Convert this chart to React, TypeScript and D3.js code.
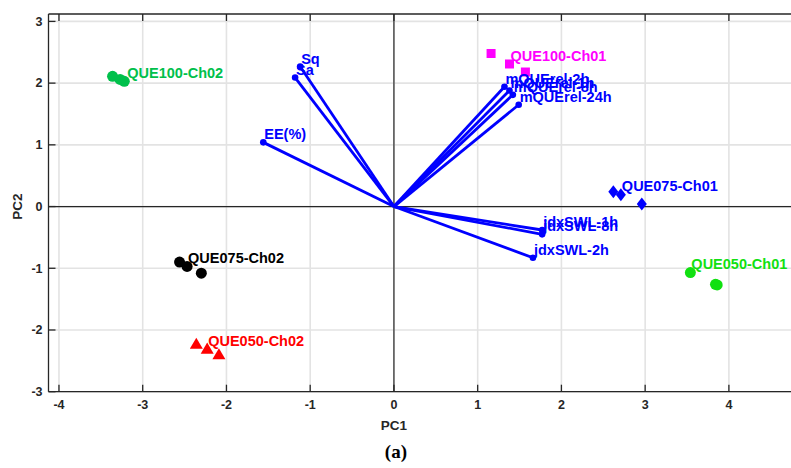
import React from 'react'
import * as d3 from 'd3'

// PCA scores per group (PC1, PC2)
const groupNames = ['QUE100-Ch02', 'QUE100-Ch01', 'QUE075-Ch01', 'QUE050-Ch01', 'QUE075-Ch02', 'QUE050-Ch02']
const groupColors = ['#00C04B', '#FF00FF', '#0000FF', '#11E011', '#000000', '#FF0000']
const groupShapes = ['circle', 'square', 'diamond', 'circle', 'circle', 'triangle']
const groupPC1 = [
  [-3.36, -3.27, -3.22],
  [1.16, 1.38, 1.57],
  [2.62, 2.71, 2.96],
  [3.86, 3.54, 3.84],
  [-2.56, -2.47, -2.3],
  [-2.36, -2.23, -2.09]
]
const groupPC2 = [
  [2.11, 2.06, 2.03],
  [2.48, 2.31, 2.18],
  [0.24, 0.19, 0.04],
  [-1.27, -1.07, -1.26],
  [-0.9, -0.97, -1.08],
  [-2.23, -2.31, -2.4]
]
const groupLabelAt = [2, 1, 1, 1, 1, 1]

// loadings
const varNames = ['Sq', 'Sa', 'EE(%)', 'mQUErel-2h', 'mQUErel-1h', 'mQUErel-8h', 'mQUErel-24h', 'jdxSWL-1h', 'jdxSWL-8h', 'jdxSWL-2h']
const varPC1 = [-1.12, -1.18, -1.56, 1.32, 1.38, 1.42, 1.49, 1.77, 1.77, 1.66]
const varPC2 = [2.27, 2.09, 1.04, 1.94, 1.88, 1.81, 1.65, -0.38, -0.45, -0.83]

const xTicks = [-4, -3, -2, -1, 0, 1, 2, 3, 4]
const yTicks = [-3, -2, -1, 0, 1, 2, 3]

const W = 791
const H = 468
const left = 48.5
const right = 793
const top = 14
const bottom = 391.7
const font = 'Arial, "Liberation Sans", Helvetica, sans-serif'

function marker(shape: string, x: number, y: number, color: string, key: string) {
  if (shape === 'square') {
    return <rect key={key} x={x - 4.5} y={y - 4.5} width={9} height={9} fill={color} />
  }
  if (shape === 'diamond') {
    const r = 6.5
    return <path key={key} d={`M${x},${y - r}L${x + r - 1.5},${y}L${x},${y + r}L${x - r + 1.5},${y}Z`} fill={color} />
  }
  if (shape === 'triangle') {
    const r = 6.5
    return <path key={key} d={`M${x},${y - r}L${x + r},${y + r * 0.7}L${x - r},${y + r * 0.7}Z`} fill={color} />
  }
  return <circle key={key} cx={x} cy={y} r={5.5} fill={color} />
}

export default function App() {
  const x = d3.scaleLinear().domain([-4.125, (right - 394.6) / 83.6]).range([left, right])
  const y = d3.scaleLinear().domain([-3, 3.12]).range([bottom, top])

  return (
    <svg width={W} height={H} style={{position: 'absolute', left: 0, top: 0, background: '#fff'}}>
      <defs>
        <clipPath id="plot">
          <rect x={left} y={top} width={right - left} height={bottom - top} />
        </clipPath>
      </defs>
      {/* grid */}
      <g stroke="#e3e3e3" strokeWidth={1.6}>
        {xTicks.map(t => (
          <line key={'gx' + t} x1={x(t)} x2={x(t)} y1={top} y2={bottom} />
        ))}
        {yTicks.map(t => (
          <line key={'gy' + t} x1={left} x2={right} y1={y(t)} y2={y(t)} />
        ))}
      </g>
      {/* zero lines */}
      <g stroke="#262626" strokeWidth={1.2}>
        <line x1={x(0)} x2={x(0)} y1={top} y2={bottom} />
        <line x1={left} x2={right} y1={y(0)} y2={y(0)} />
      </g>
      <g clipPath="url(#plot)">
        {varNames.map((n, i) => (
          <g key={n}>
            <line
              x1={x(0)}
              y1={y(0)}
              x2={x(varPC1[i])}
              y2={y(varPC2[i])}
              stroke="#0000FF"
              strokeWidth={2.8}
            />
            <circle cx={x(varPC1[i])} cy={y(varPC2[i])} r={3.3} fill="#0000FF" />
          </g>
        ))}
        {groupNames.map((g, gi) =>
          groupPC1[gi].map((v, j) => marker(groupShapes[gi], x(v), y(groupPC2[gi][j]), groupColors[gi], g + j))
        )}
      </g>
      <g fontFamily={font} fontWeight="bold" fontSize={14.5}>
        {varNames.map((n, i) => (
          <text key={'t' + n} x={x(varPC1[i]) + 1} y={y(varPC2[i]) - 8} dy="0.35em" fill="#0000FF">
            {n}
          </text>
        ))}
        {groupNames.map((g, gi) => {
          const k = groupLabelAt[gi]
          return (
            <text
              key={'l' + g}
              x={x(groupPC1[gi][k]) + (gi === 0 ? 3 : 1)}
              y={y(groupPC2[gi][k]) - 8.5}
              dy="0.35em"
              fill={groupColors[gi]}
            >
              {g}
            </text>
          )
        })}
      </g>
      {/* axes box */}
      <g stroke="#262626" strokeWidth={1.3} fill="none">
        <line x1={left} x2={right} y1={bottom} y2={bottom} />
        <line x1={left} x2={right} y1={top} y2={top} />
        <line x1={left} x2={left} y1={top} y2={bottom} />
        {xTicks.map(t => (
          <g key={'tx' + t}>
            <line x1={x(t)} x2={x(t)} y1={bottom} y2={bottom - 7} />
            <line x1={x(t)} x2={x(t)} y1={top} y2={top + 7} />
          </g>
        ))}
        {yTicks.map(t => (
          <line key={'ty' + t} x1={left} x2={left + 7} y1={y(t)} y2={y(t)} />
        ))}
      </g>
      <g fontFamily={font} fontWeight="bold" fontSize={12.5} fill="#262626">
        {xTicks.map(t => (
          <text key={'lx' + t} x={x(t)} y={bottom + 17} textAnchor="middle">
            {t}
          </text>
        ))}
        {yTicks.map(t => (
          <text key={'ly' + t} x={left - 6} y={y(t)} dy="0.35em" textAnchor="end">
            {t}
          </text>
        ))}
        <text x={x(0)} y={430} textAnchor="middle" fontSize={13.5}>
          PC1
        </text>
        <text transform={`translate(22,${y(0)}) rotate(-90)`} textAnchor="middle" fontSize={13.5}>
          PC2
        </text>
      </g>
      <text
        x={x(0) + 2}
        y={458}
        textAnchor="middle"
        fontFamily='"Liberation Serif", "DejaVu Serif", serif'
        fontWeight="bold"
        fontSize={19}
        fill="#000"
      >
        (a)
      </text>
    </svg>
  )
}
